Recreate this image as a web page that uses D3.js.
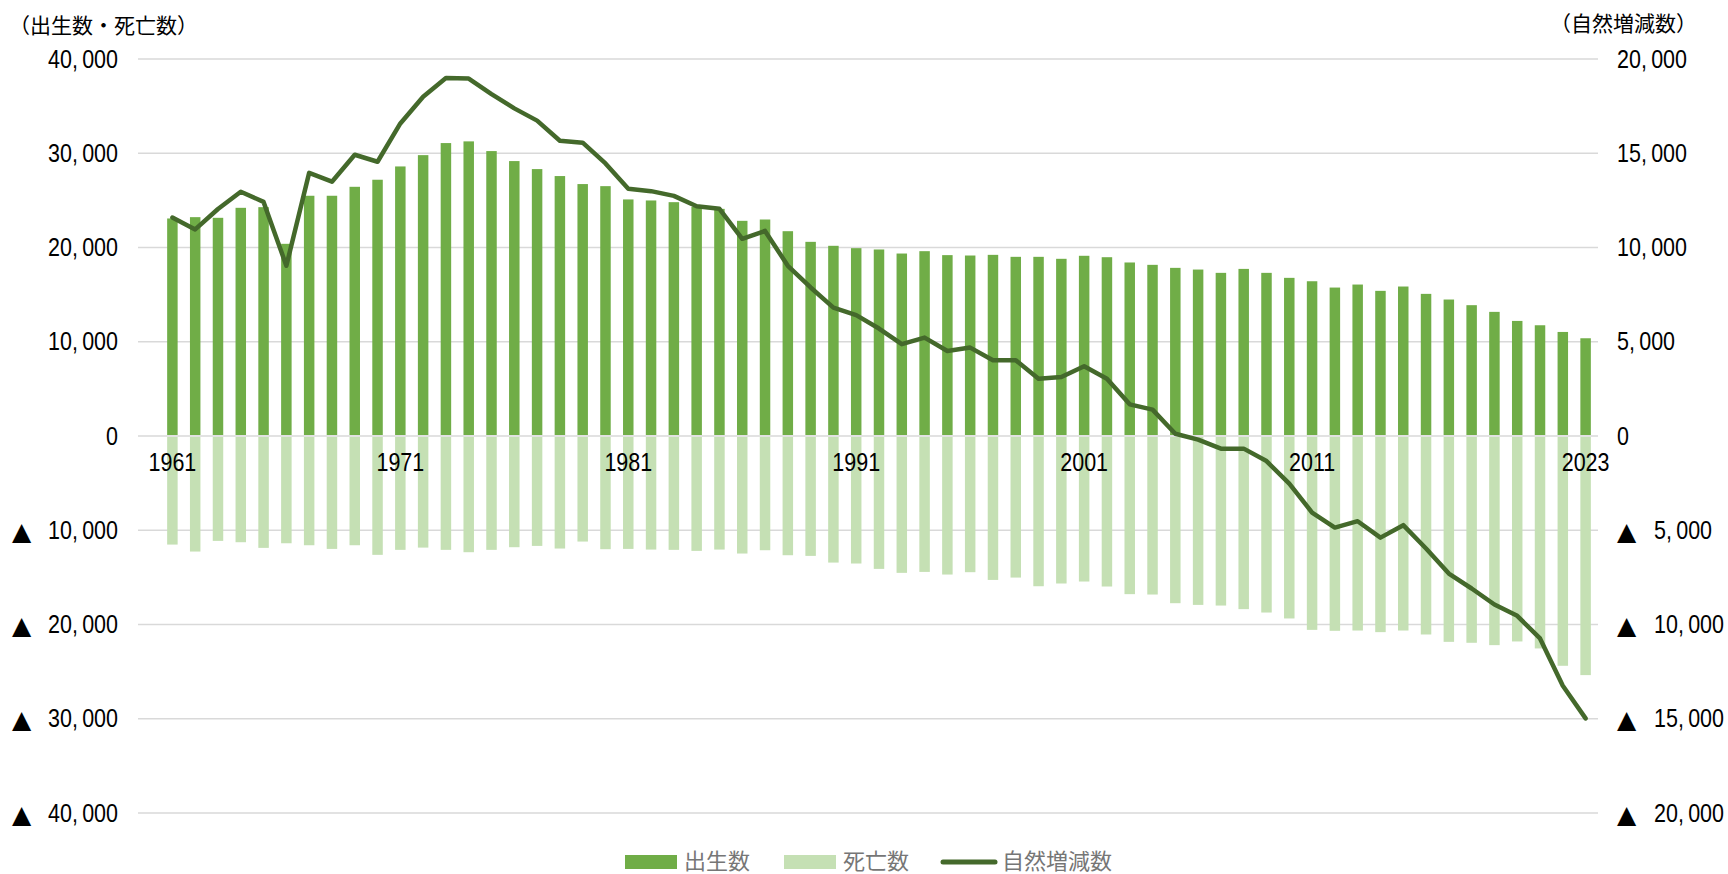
<!DOCTYPE html>
<html>
<head>
  <meta charset="utf-8">
  <title>出生数・死亡数・自然増減数</title>
  <script src="https://d3js.org/d3.v7.min.js"></script>
  <style>
    body {
      margin: 0;
      background: #fff;
    }
    .axis-title {
      font-family: "Noto Sans CJK JP", sans-serif;
      font-size: 21px;
      fill: #000;
    }
    .tick text {
      font-family: "Liberation Sans", Arial, sans-serif;
      font-size: 25px;
      fill: #000;
    }
    .tick text.tri {
      font-family: "DejaVu Sans", sans-serif;
      font-size: 25px;
    }
    .legend text {
      font-family: "Noto Sans CJK JP", sans-serif;
      font-size: 22px;
      fill: #767676;
    }
  </style>
</head>
<body>
  <svg id="chart" width="1728" height="874"></svg>

  <script>
    // 年（1961〜2023）
    const years = [
      1961, 1962, 1963, 1964, 1965, 1966, 1967, 1968, 1969, 1970,
      1971, 1972, 1973, 1974, 1975, 1976, 1977, 1978, 1979, 1980,
      1981, 1982, 1983, 1984, 1985, 1986, 1987, 1988, 1989, 1990,
      1991, 1992, 1993, 1994, 1995, 1996, 1997, 1998, 1999, 2000,
      2001, 2002, 2003, 2004, 2005, 2006, 2007, 2008, 2009, 2010,
      2011, 2012, 2013, 2014, 2015, 2016, 2017, 2018, 2019, 2020,
      2021, 2022, 2023
    ];

    // 出生数
    const births = [
      23080, 23220, 23150, 24210, 24280, 20390, 25490, 25490, 26440, 27190,
      28600, 29800, 31080, 31260, 30230, 29170, 28320, 27580, 26730, 26510,
      25100, 24990, 24810, 24300, 24100, 22830, 22970, 21730, 20600, 20180,
      19930, 19790, 19360, 19610, 19190, 19150, 19220, 19010, 19010, 18800,
      19120, 18970, 18410, 18160, 17840, 17660, 17310, 17730, 17310, 16780,
      16420, 15750, 16070, 15400, 15860, 15080, 14480, 13880, 13170, 12210,
      11750, 11040, 10370
    ];

    // 死亡数（下向きに描く）
    const deaths = [
      11520, 12260, 11130, 11270, 11870, 11380, 11590, 11980, 11590, 12610,
      12080, 11840, 12080, 12330, 12080, 11800, 11660, 11940, 11200, 12010,
      11980, 12050, 12080, 12190, 12050, 12470, 12120, 12650, 12720, 13430,
      13530, 14100, 14520, 14420, 14700, 14450, 15270, 15020, 15940, 15650,
      15440, 15970, 16780, 16820, 17740, 17920, 17990, 18370, 18730, 19360,
      20570, 20670, 20640, 20810, 20640, 21060, 21840, 21940, 22190, 21800,
      22540, 24380, 25370
    ];

    // 自然増減数（右軸）
    const natural = [
      11590, 10960, 12040, 12960, 12420, 9030, 13960, 13490, 14920, 14550,
      16580, 18000, 18990, 18960, 18140, 17380, 16730, 15660, 15560, 14460,
      13120, 12990, 12740, 12190, 12050, 10460, 10880, 9030, 7880, 6810,
      6410, 5700, 4870, 5220, 4510, 4690, 4020, 4020, 3040, 3130,
      3700, 3040, 1680, 1400, 120, -190, -670, -670, -1330, -2530,
      -4060, -4860, -4520, -5390, -4730, -5970, -7300, -8090, -8940, -9540,
      -10740, -13250, -14980
    ];

    const leftTicks = [40000, 30000, 20000, 10000, 0, -10000, -20000, -30000, -40000];
    const rightTicks = [20000, 15000, 10000, 5000, 0, -5000, -10000, -15000, -20000];
    const yearLabels = [1961, 1971, 1981, 1991, 2001, 2011, 2023];

    const svg = d3.select("#chart");
    const gridLeft = 138, gridRight = 1598;
    const yTop = 59, yBottom = 813;
    const squeeze = 0.86; // narrow numeric font look

    const x = d3.scaleBand()
      .domain(years)
      .range([161, 1597])
      .paddingInner(0.54)
      .paddingOuter(0.27);

    const yL = d3.scaleLinear().domain([-40000, 40000]).range([yBottom, yTop]);
    const yR = d3.scaleLinear().domain([-20000, 20000]).range([yBottom, yTop]);

    const fmt = d3.format(",");
    const tickFmt = v => fmt(Math.abs(v)).replace(",", ",\u2009");

    // gridlines
    svg.append("g")
      .selectAll("line")
      .data(leftTicks)
      .join("line")
      .attr("x1", gridLeft)
      .attr("x2", gridRight)
      .attr("y1", d => yL(d))
      .attr("y2", d => yL(d))
      .attr("stroke", "#d9d9d9")
      .attr("stroke-width", 1.5);

    // deaths bars (negative)
    svg.append("g")
      .selectAll("rect")
      .data(years)
      .join("rect")
      .attr("x", d => x(d))
      .attr("width", x.bandwidth())
      .attr("y", yL(0) + 1)
      .attr("height", (d, i) => yL(-deaths[i]) - yL(0) - 1)
      .attr("fill", "#c5e0b4");

    // births bars
    svg.append("g")
      .selectAll("rect")
      .data(years)
      .join("rect")
      .attr("x", d => x(d))
      .attr("width", x.bandwidth())
      .attr("y", (d, i) => yL(births[i]))
      .attr("height", (d, i) => yL(0) - 1 - yL(births[i]))
      .attr("fill", "#70ad47");

    // left axis
    const leftAxis = svg.append("g")
      .attr("transform", `translate(${gridLeft},0)`)
      .call(d3.axisLeft(yL).tickValues(leftTicks).tickSize(0).tickPadding(20).tickFormat(tickFmt));
    leftAxis.select(".domain").remove();

    // right axis
    const rightAxis = svg.append("g")
      .attr("transform", `translate(${gridRight},0)`)
      .call(d3.axisRight(yR).tickValues(rightTicks).tickSize(0).tickPadding(19).tickFormat(tickFmt));
    rightAxis.select(".domain").remove();
    rightAxis.selectAll(".tick").filter(d => d < 0).select("text").attr("x", 56);

    // x axis labels
    const xAxis = svg.append("g")
      .attr("transform", `translate(0,${yL(0)})`)
      .call(d3.axisBottom(x).tickValues(yearLabels).tickSize(0).tickPadding(17));
    xAxis.select(".domain").remove();

    // squeeze numeric labels horizontally (narrow look)
    svg.selectAll(".tick text").each(function() {
      const t = d3.select(this);
      const tx = +t.attr("x") || 0;
      const ty = +t.attr("y") || 0;
      t.attr("x", 0).attr("y", 0)
        .attr("transform", `translate(${tx},${ty}) scale(${squeeze},1)`);
    });

    // ▲ marks for negative ticks
    leftAxis.selectAll(".tick").filter(d => d < 0)
      .append("text")
      .attr("class", "tri")
      .attr("x", 12 - gridLeft)
      .attr("dy", "0.36em")
      .attr("text-anchor", "start")
      .text("▲");

    rightAxis.selectAll(".tick").filter(d => d < 0)
      .append("text")
      .attr("class", "tri")
      .attr("x", 19)
      .attr("dy", "0.36em")
      .attr("text-anchor", "start")
      .text("▲");

    // natural increase line
    const line = d3.line()
      .x((d, i) => x(years[i]) + x.bandwidth() / 2)
      .y(d => yR(d));

    svg.append("path")
      .datum(natural)
      .attr("d", line)
      .attr("fill", "none")
      .attr("stroke", "#44692b")
      .attr("stroke-width", 4.5)
      .attr("stroke-linejoin", "round")
      .attr("stroke-linecap", "round");

    // axis titles
    svg.append("text")
      .attr("class", "axis-title")
      .attr("x", 9)
      .attr("y", 33)
      .text("（出生数・死亡数）");

    svg.append("text")
      .attr("class", "axis-title")
      .attr("x", 1697)
      .attr("y", 31)
      .attr("text-anchor", "end")
      .text("（自然増減数）");

    // legend
    const legendItems = [
      { name: "出生数", type: "rect", color: "#70ad47", x: 625 },
      { name: "死亡数", type: "rect", color: "#c5e0b4", x: 784 },
      { name: "自然増減数", type: "line", color: "#44692b", x: 941 }
    ];
    const legendY = 862;

    const legend = svg.append("g")
      .attr("class", "legend")
      .selectAll("g")
      .data(legendItems)
      .join("g")
      .attr("transform", d => `translate(${d.x},${legendY})`);

    legend.filter(d => d.type === "rect")
      .append("rect")
      .attr("x", 0)
      .attr("y", -7)
      .attr("width", 52)
      .attr("height", 14)
      .attr("fill", d => d.color);

    legend.filter(d => d.type === "line")
      .append("line")
      .attr("x1", 2)
      .attr("x2", 54)
      .attr("y1", 0)
      .attr("y2", 0)
      .attr("stroke", d => d.color)
      .attr("stroke-width", 5)
      .attr("stroke-linecap", "round");

    legend.append("text")
      .attr("x", d => d.type === "line" ? 61 : 59)
      .attr("y", 0)
      .attr("dy", "0.34em")
      .text(d => d.name);
  </script>
</body>
</html>
